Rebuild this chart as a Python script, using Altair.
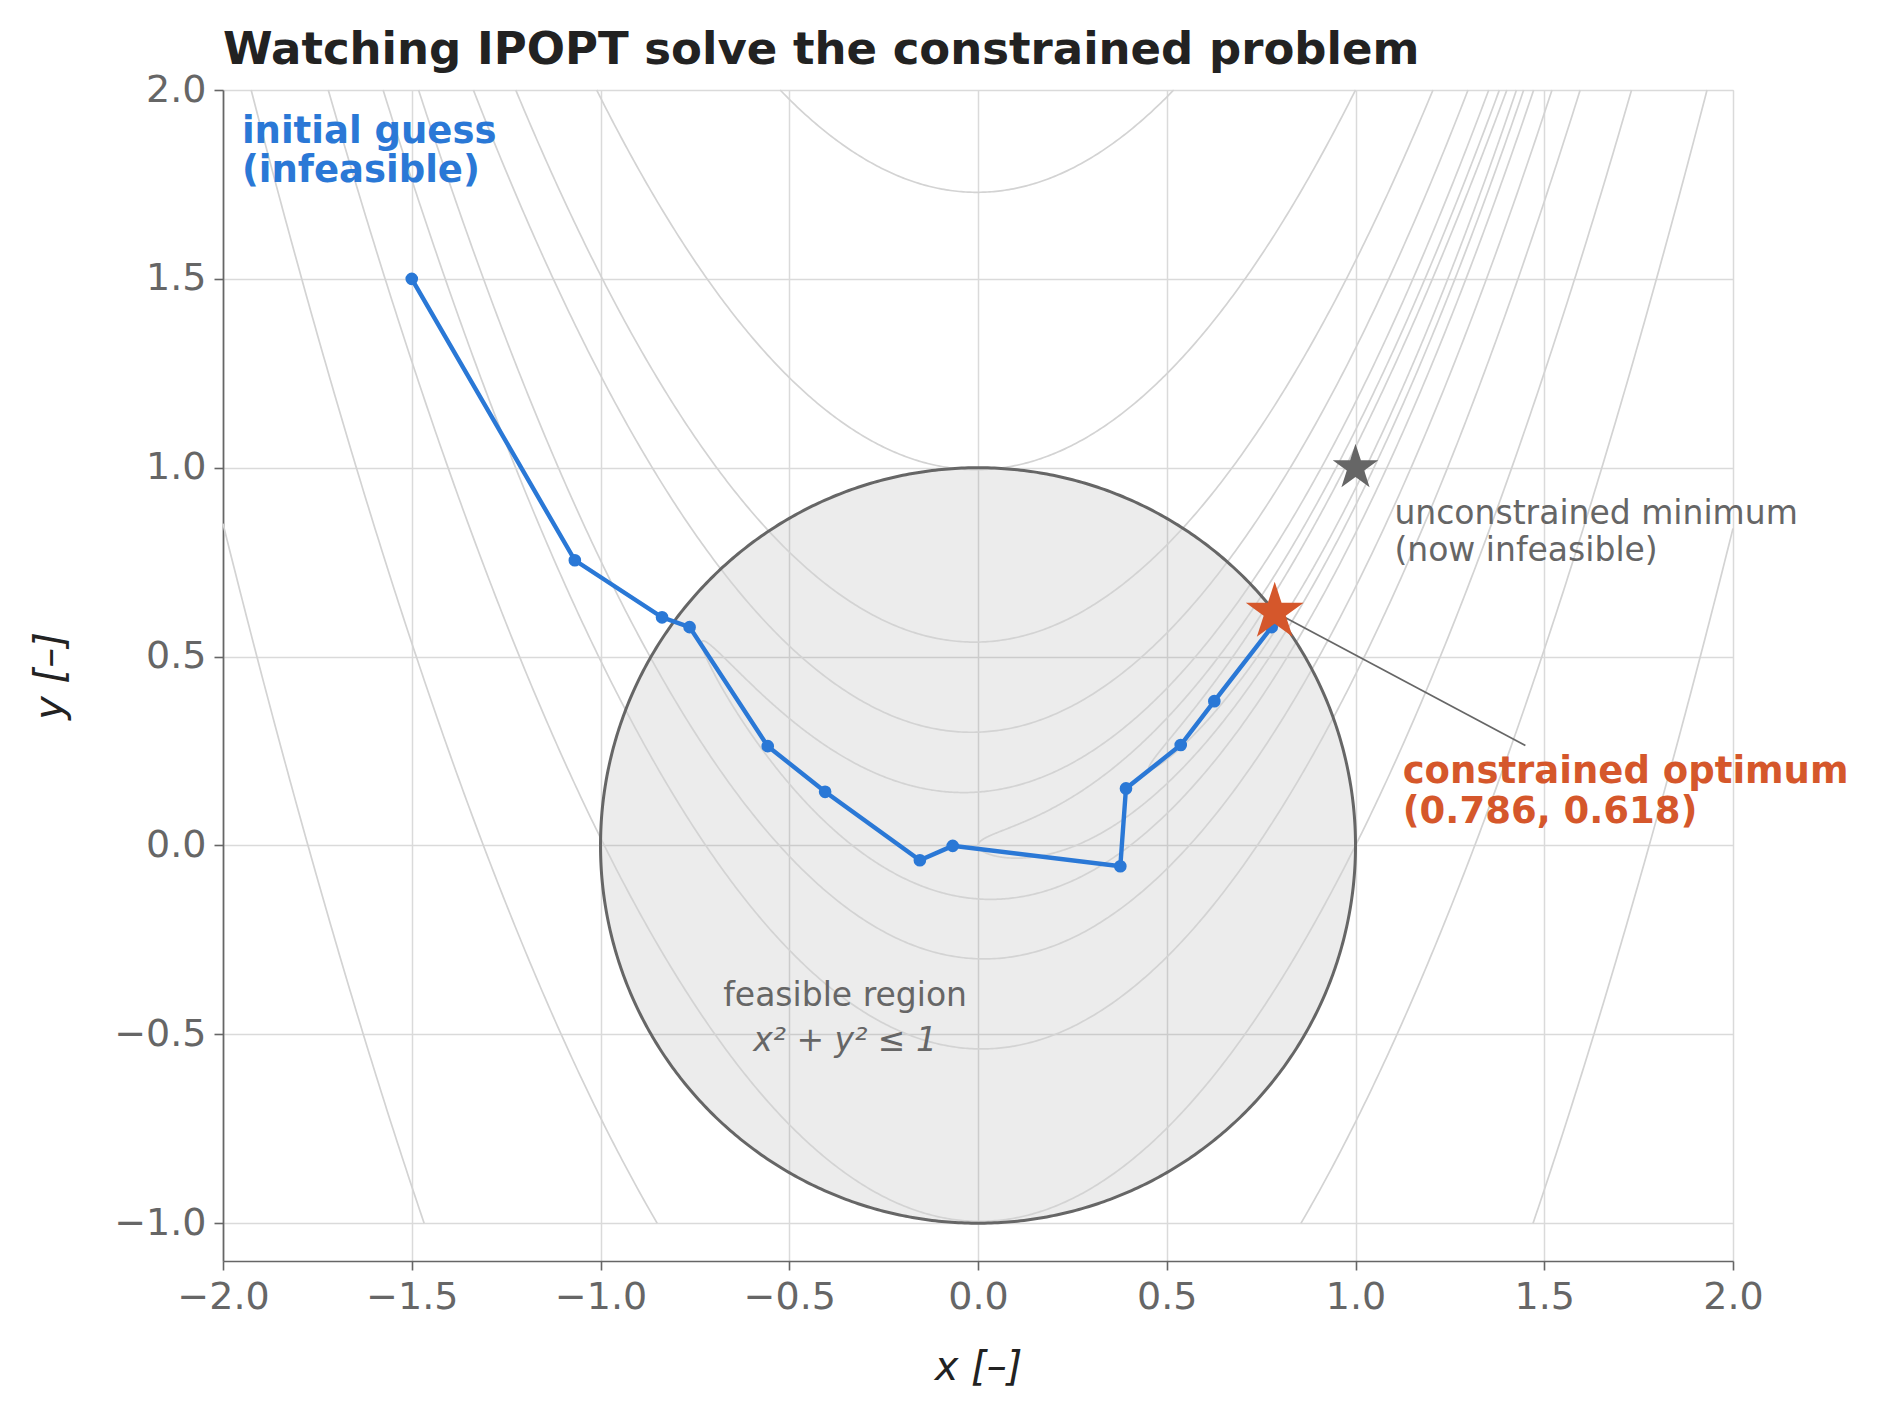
import numpy as np
import pandas as pd
import altair as alt

# ---------------------------------------------------------------------------
# Data
# ---------------------------------------------------------------------------
# Rosenbrock f(x, y) = (1 - x)^2 + 100 (y - x^2)^2, contour levels drawn
levels = [0.3, 1, 3, 10, 30, 100, 300, 1000]

# IPOPT iterates, from the initial guess to the converged point
iter_x = [-1.5, -1.068, -0.837, -0.764, -0.557, -0.405, -0.154, -0.067,
          0.377, 0.392, 0.537, 0.626, 0.778, 0.786]
iter_y = [1.5, 0.755, 0.604, 0.578, 0.263, 0.142, -0.039, -0.001,
          -0.055, 0.151, 0.266, 0.382, 0.578, 0.618]

opt_x, opt_y = 0.786, 0.618      # constrained optimum
unc_x, unc_y = 1.0, 1.0          # unconstrained minimum

x_ticks = [-2.0, -1.5, -1.0, -0.5, 0.0, 0.5, 1.0, 1.5, 2.0]
y_ticks = [-1.0, -0.5, 0.0, 0.5, 1.0, 1.5, 2.0]

X_DOMAIN = [-2.0, 2.0]
Y_DOMAIN = [-1.1, 2.0]
GRID_Y = (-1.0, 2.0)             # extent of the contour evaluation grid

BLUE = "#2a78d6"
ORANGE = "#d5572b"
GREY = "#666666"
FONT = "DejaVu Sans"


# ---------------------------------------------------------------------------
# Geometry helpers
# ---------------------------------------------------------------------------
def clip_runs(xs, ys, ylo, yhi):
    """Split a polyline into the runs that lie inside ylo <= y <= yhi,
    adding the exact crossing points at the boundaries."""
    runs, cur = [], []
    inside_prev = None
    for i in range(len(xs)):
        inside = ylo <= ys[i] <= yhi
        if i > 0 and inside != inside_prev:
            y_out = ys[i] if not inside else ys[i - 1]
            bound = ylo if y_out < ylo else yhi
            f = (bound - ys[i - 1]) / (ys[i] - ys[i - 1])
            cur.append((xs[i - 1] + f * (xs[i] - xs[i - 1]), bound))
            if not inside:
                runs.append(cur)
                cur = []
        if inside:
            cur.append((xs[i], ys[i]))
        inside_prev = inside
    if cur:
        runs.append(cur)
    return [r for r in runs if len(r) > 1]


def rosenbrock_level(c, n=700):
    """Both branches of the level set f = c, limited to the plotted x range."""
    r = np.sqrt(c)
    cos_hi = min(1.0, (1 - X_DOMAIN[0]) / r)
    cos_lo = max(-1.0, (1 - X_DOMAIN[1]) / r)
    t = np.linspace(np.arccos(cos_hi), np.arccos(cos_lo), n)
    x = 1 - r * np.cos(t)
    h = r * np.sin(t) / 10.0
    return [(x, x ** 2 + h), (x, x ** 2 - h)]


rows = []
seg = 0
for c in levels:
    for bx, by in rosenbrock_level(c):
        for run in clip_runs(bx, by, *GRID_Y):
            for k, (px, py) in enumerate(run):
                rows.append({"x": px, "y": py, "seg": seg, "idx": k})
            seg += 1
contours = pd.DataFrame(rows)

theta = np.linspace(0, 2 * np.pi, 721)
circle_edge = pd.DataFrame({"x": np.cos(theta), "y": np.sin(theta),
                            "idx": np.arange(theta.size)})
half = np.linspace(0, np.pi, 361)
circle_fill = pd.DataFrame({"x": np.cos(half), "y": np.sin(half),
                            "y2": -np.sin(half)})

path = pd.DataFrame({"x": iter_x, "y": iter_y, "step": range(len(iter_x))})


def star_path(inner=0.382):
    pts = []
    for k in range(10):
        a = np.deg2rad(-90 + 36 * k)
        rr = 1.0 if k % 2 == 0 else inner
        pts.append(f"{rr * np.cos(a):.4f},{rr * np.sin(a):.4f}")
    return "M" + "L".join(pts) + "Z"


STAR = star_path()

# ---------------------------------------------------------------------------
# Scales / axes
# ---------------------------------------------------------------------------
axis_common = dict(
    grid=True, gridColor="#dadada", gridWidth=1.5,
    domainColor=GREY, domainWidth=1.7,
    tickColor=GREY, tickWidth=1.6, tickSize=9,
    labelColor=GREY, labelFont=FONT, labelFontSize=38, labelPadding=8,
    labelFlush=False, labelOverlap=False, format=".1f",
    titleFont=FONT, titleFontSize=40, titleColor="#222222",
    titleFontWeight="normal", titleFontStyle="italic",
)
x_enc = alt.X("x:Q", scale=alt.Scale(domain=X_DOMAIN, nice=False, zero=False),
              axis=alt.Axis(values=x_ticks, title="x [–]", titlePadding=31,
                            **axis_common))
y_enc = alt.Y("y:Q", scale=alt.Scale(domain=Y_DOMAIN, nice=False, zero=False),
              axis=alt.Axis(values=y_ticks, title="y [–]", titlePadding=43,
                            **axis_common))

# ---------------------------------------------------------------------------
# Layers
# ---------------------------------------------------------------------------
fill = alt.Chart(circle_fill).mark_area(color="#808080", opacity=0.15).encode(
    x=x_enc, y=y_enc, y2="y2:Q")

contour_lines = alt.Chart(contours).mark_line(
    color="#d3d3d3", strokeWidth=1.7).encode(
    x=x_enc, y=y_enc, detail="seg:N", order="idx:Q")

edge = alt.Chart(circle_edge).mark_line(color=GREY, strokeWidth=3.0).encode(
    x=x_enc, y=y_enc, order="idx:Q")

iter_line = alt.Chart(path).mark_line(color=BLUE, strokeWidth=4.4).encode(
    x=x_enc, y=y_enc, order="step:Q")
iter_pts = alt.Chart(path).mark_circle(color=BLUE, size=160, opacity=1).encode(
    x=x_enc, y=y_enc)

leader = alt.Chart(pd.DataFrame({"x": [opt_x], "y": [opt_y],
                                 "x2": [1.45], "y2": [0.265]})).mark_rule(
    color=GREY, strokeWidth=1.7).encode(x=x_enc, y=y_enc, x2="x2:Q", y2="y2:Q")

unc_star = alt.Chart(pd.DataFrame({"x": [unc_x], "y": [unc_y]})).mark_point(
    shape=STAR, filled=True, size=2300, color=GREY, opacity=1).encode(
    x=x_enc, y=y_enc)
opt_star = alt.Chart(pd.DataFrame({"x": [opt_x], "y": [opt_y]})).mark_point(
    shape=STAR, filled=True, size=3700, color=ORANGE, opacity=1).encode(
    x=x_enc, y=y_enc)


def note(text, x0, y0, align="left", **style):
    """A (possibly multi-line) note anchored at the top of its first line."""
    df = pd.DataFrame({"x": [x0], "y": [y0], "t": [text]})
    return alt.Chart(df).mark_text(align=align, baseline="top", font=FONT,
                                   lineBreak="\n", **style).encode(
        x=x_enc, y=y_enc, text="t:N")


init_txt = note("initial guess\n(infeasible)", -1.95, 1.937,
                fontSize=37, lineHeight=39, fontWeight="bold", color=BLUE)
unc_txt = note("unconstrained minimum\n(now infeasible)", 1.103, 0.920,
               fontSize=33, lineHeight=37, color=GREY)
opt_txt = note(f"constrained optimum\n({opt_x:.3f}, {opt_y:.3f})", 1.125, 0.241,
               fontSize=37, lineHeight=40, fontWeight="bold", color=ORANGE)
feas_txt = note("feasible region", -0.352, -0.356, align="center",
                fontSize=33, color=GREY)
feas_eq = note("x² + y² ≤ 1", -0.352, -0.474, align="center",
               fontSize=33, fontStyle="italic", color=GREY)

chart = alt.layer(
    fill, contour_lines, edge, iter_line, iter_pts, leader,
    unc_star, opt_star, init_txt, unc_txt, opt_txt, feas_txt, feas_eq,
).properties(
    width=1510, height=1171,
    title=alt.TitleParams("Watching IPOPT solve the constrained problem",
                          anchor="start", frame="group", font=FONT,
                          fontSize=45, fontWeight="bold", color="#222222",
                          offset=-2),
    autosize=alt.AutoSizeParams(type="none"),
    padding={"left": 223, "top": 90, "right": 150, "bottom": 160},
).configure_view(stroke=None).configure(background="white")

chart.save("out.html", embed_options={"renderer": "svg", "actions": False})
